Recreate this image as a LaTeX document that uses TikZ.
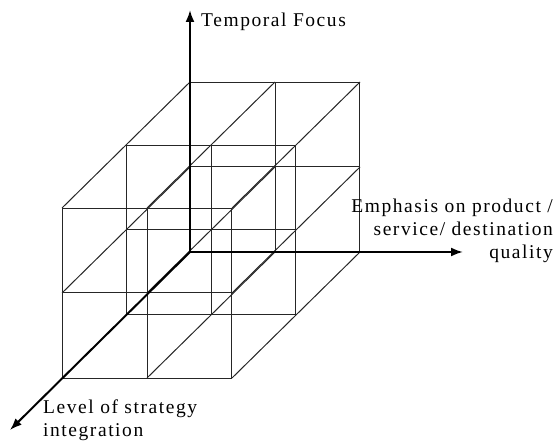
\documentclass[tikz,border=0pt]{standalone}
\usepackage{fontspec}
\setmainfont[LetterSpace=8]{Liberation Serif}
\usepackage{tikz}
\usetikzlibrary{arrows.meta}

\tikzset{
  lattice/.style={black!85, line width=1pt},
  axis/.style={black, line width=2pt, -{Latex[length=12pt,width=9pt]}},
  caption/.style={inner sep=0pt, font=\fontsize{19.5pt}{23pt}\selectfont},
}

\begin{document}
\begin{tikzpicture}[x=1pt,y=1pt]
\useasboundingbox (0,0) rectangle (553,444);

% three faces of the block, back to front
\begin{scope}[shift={(190,192)}]
\draw[lattice, step=85pt] (0,0) grid (170,170);
\end{scope}
\begin{scope}[shift={(126,129)}]
\draw[lattice, step=85pt] (0,0) grid (170,170);
\end{scope}
\begin{scope}[shift={(62,66)}]
\draw[lattice, step=85pt] (0,0) grid (170,170);
\end{scope}

% depth edges
\draw[lattice] (275,192)--++(-128,-126);
\draw[lattice] (360,192)--++(-128,-126);
\draw[lattice] (190,277)--++(-128,-126);
\draw[lattice] (275,277)--++(-128,-126);
\draw[lattice] (360,277)--++(-128,-126);
\draw[lattice] (190,362)--++(-128,-126);
\draw[lattice] (275,362)--++(-128,-126);
\draw[lattice] (360,362)--++(-128,-126);

% axes
\coordinate (O) at (190,192);
\coordinate (Ttip) at (190,434);
\coordinate (Qtip) at (463,192);
\coordinate (Ltip) at (10,14);
\draw[axis] (O) -- (Ttip);
\draw[axis] (O) -- (Qtip);
\draw[axis] (O) -- (Ltip);

\node[caption, anchor=base west] (tf) at (201,417) {Temporal Focus};
\node[caption, anchor=north east, align=right] (eq) at (553,245)
  {Emphasis on product /\\service/ destination\\quality};
\node[caption, anchor=north west, align=left] (ls) at (43,44)
  {Level of strategy\\integration};

\end{tikzpicture}
\end{document}
